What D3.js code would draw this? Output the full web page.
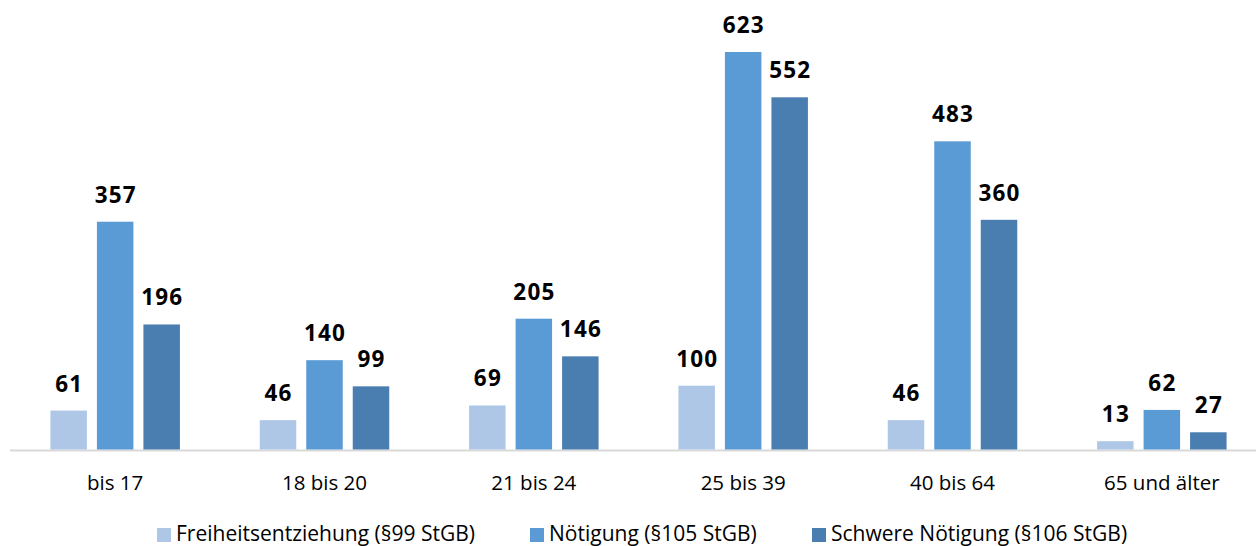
<!DOCTYPE html>
<html>
<head>
<meta charset="utf-8">
<script src="https://cdn.jsdelivr.net/npm/d3@7"></script>
<style>
  html, body { margin: 0; padding: 0; background: #fff; }
  svg { display: block; }
  text { font-family: "Open Sans", "DejaVu Sans", sans-serif; }
</style>
</head>
<body>
<svg id="chart" width="1256" height="546"></svg>
<script>
const categories = ["bis 17", "18 bis 20", "21 bis 24", "25 bis 39", "40 bis 64", "65 und älter"];
const seriesNames = ["Freiheitsentziehung (§99 StGB)", "Nötigung (§105 StGB)", "Schwere Nötigung (§106 StGB)"];
const freiheitsentziehung = [61, 46, 69, 100, 46, 13];
const noetigung = [357, 140, 205, 623, 483, 62];
const schwereNoetigung = [196, 99, 146, 552, 360, 27];
const colors = ["#AEC7E7", "#5B9BD5", "#4A7EB0"];

const seriesValues = [freiheitsentziehung, noetigung, schwereNoetigung];
const data = categories.map((c, i) => ({
  category: c,
  values: seriesNames.map((s, j) => ({ series: s, value: seriesValues[j][i], color: colors[j] }))
}));

const svg = d3.select("#chart");
const baseY = 449.5;

const x0 = d3.scaleBand().domain(categories).range([10.5, 1266.5]).paddingInner(0).paddingOuter(0);
const half = 64.75;
const x1 = d3.scaleBand().domain(seriesNames)
  .range([x0.bandwidth() / 2 - half, x0.bandwidth() / 2 + half])
  .paddingInner(10 / 46.5).paddingOuter(0);
const y = d3.scaleLinear().domain([0, 623]).range([baseY, 52]);

// axis line
svg.append("line")
  .attr("x1", 10).attr("x2", 1256)
  .attr("y1", 450.5).attr("y2", 450.5)
  .attr("stroke", "#D9D9D9").attr("stroke-width", 2);

const groups = svg.selectAll("g.grp").data(data).enter().append("g")
  .attr("class", "grp")
  .attr("transform", d => `translate(${x0(d.category)},0)`);

groups.selectAll("rect").data(d => d.values).enter().append("rect")
  .attr("x", d => x1(d.series))
  .attr("y", d => y(d.value))
  .attr("width", x1.bandwidth())
  .attr("height", d => baseY - y(d.value))
  .attr("fill", d => d.color);

groups.selectAll("text.val").data(d => d.values).enter().append("text")
  .attr("class", "val")
  .attr("x", d => x1(d.series) + x1.bandwidth() / 2 + 0.6)
  .attr("y", d => y(d.value) - 19)
  .attr("text-anchor", "middle")
  .attr("font-size", 22.5)
  .attr("font-weight", "bold")
  .attr("letter-spacing", 1.2)
  .attr("fill", "#000")
  .text(d => d.value);

// category labels
const xAxis = d3.axisBottom(x0).tickSize(0).tickPadding(0);
const axisG = svg.append("g").attr("transform", `translate(0,${490})`).call(xAxis);
axisG.select(".domain").remove();
axisG.selectAll("text")
  .attr("dy", 0)
  .attr("y", 0)
  .attr("font-size", 20.5)
  .attr("fill", "#000")
  .style("font-family", "'Open Sans', sans-serif");

// legend
const legendX = [157, 530, 812];
const legend = svg.append("g");
seriesNames.forEach((s, i) => {
  legend.append("rect")
    .attr("x", legendX[i]).attr("y", 528)
    .attr("width", 14).attr("height", 14)
    .attr("fill", colors[i]);
  legend.append("text")
    .attr("x", legendX[i] + 19).attr("y", 540.5)
    .attr("font-size", 21)
    .attr("fill", "#000")
    .text(s);
});
</script>
</body>
</html>
